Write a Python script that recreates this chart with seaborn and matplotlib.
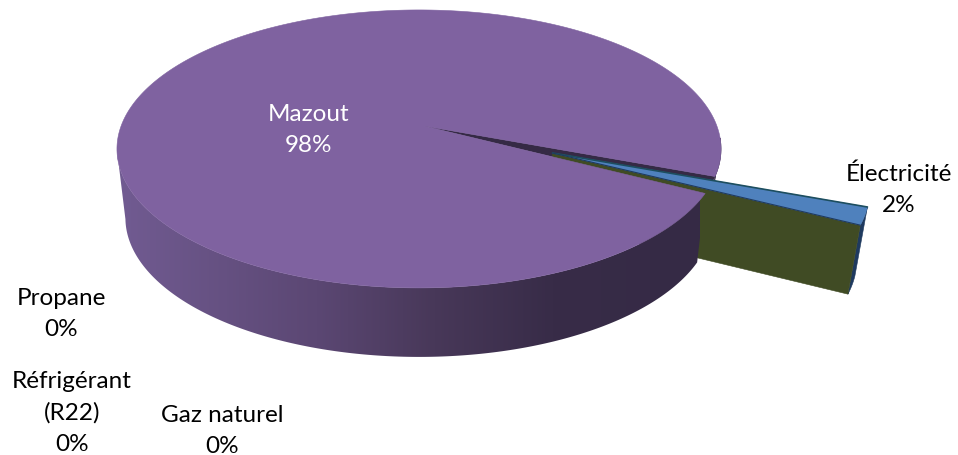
import numpy as np
import matplotlib
matplotlib.use("Agg")
import matplotlib.pyplot as plt
from matplotlib.colors import LinearSegmentedColormap
from matplotlib.patches import Polygon
import seaborn as sns

fuel_names = ["Électricité", "Mazout", "Gaz naturel", "Réfrigérant\n(R22)", "Propane"]
fuel_shares = [1.9, 98.1, 0.0, 0.0, 0.0]

sns.set_theme(style="white")
plt.rcParams['font.family'] = ['Lato', 'DejaVu Sans']

top_purple, blue, olive, navy, teal, gap_dark = sns.color_palette(
    ["#7f62a0", "#4f81bd", "#404b24", "#1f3a5f", "#1d4e5f", "#352a45"])
wall_cmap = LinearSegmentedColormap.from_list(
    "wall", [(0, "#725c93"), (0.35, "#5b4773"), (0.55, "#483859"), (0.75, "#382c48"), (1, "#352a45")])

# pie geometry in pixels, the 3d look is a simple perspective on the unit disc
cx, cy = 419, 127
apex_shift = 5
fx, fy, persp = 297.9, 135.2, 0.165
depth, shrink = 69, 0.028
explode = 0.475
first_angle = 20.6
left_edge = 170


def project(r, theta, z=0.0, off=(0.0, 0.0)):
    u = r * np.cos(np.radians(theta)) + off[0]
    v = r * np.sin(np.radians(theta)) + off[1]
    w = 1 - persp * v
    return np.column_stack([cx + fx * u / w * (1 - shrink * z), cy + fy * v / w + depth * z])


def rim(a0, a1, z=0.0, off=(0.0, 0.0), n=200):
    return project(1.0, np.linspace(a0, a1, n), z, off)


sweep = np.array(fuel_shares) / sum(fuel_shares) * 360
a1 = first_angle
a2 = first_angle + sweep[0]
mid = np.radians((a1 + a2) / 2)
off = (explode * np.cos(mid), explode * np.sin(mid))
apex = project(0.0, np.array([0.0])) + [apex_shift, 0]
apex_out = project(0.0, np.array([0.0]), 0.0, off)

fig = plt.figure(figsize=(9.58, 4.56), dpi=100)
ax = fig.add_axes([0, 0, 1, 1])


def fill(points, color, zorder, **kw):
    ax.add_patch(Polygon(points, closed=True, fc=color, ec=color, lw=0.4, zorder=zorder, **kw))


# back sliver of the wall on the right
fill(np.vstack([rim(5, a1), rim(a1, 5, 1)]), gap_dark, 1)
# gap left by the pulled out slice
fill(np.vstack([apex, rim(a1, a2)]), gap_dark, 2)

# Électricité slice
fill(np.vstack([rim(a1, a2, 0, off), rim(a2, a1, 1, off)]), navy, 3)
fill(np.vstack([apex_out, rim(a2, a2, 0, off, 2)[-1:], rim(a2, a2, 1, off, 2)[-1:],
                project(0.0, np.array([0.0]), 1.0, off)]), olive, 4)

# big wall with horizontal shading
wall = np.vstack([rim(a2, left_edge), rim(left_edge, a2, 1)])
grad = ax.imshow(np.linspace(0, 1, 256)[None, :], cmap=wall_cmap, extent=(110, 700, 400, 100),
                 aspect="auto", zorder=5)
grad.set_clip_path(Polygon(wall, closed=True, transform=ax.transData))

# top of Mazout
fill(np.vstack([apex, rim(a2, a1 + 360, n=500)]), top_purple, 6)

# top of Électricité
fill(np.vstack([apex_out, rim(a1, a2, 0, off)]), blue, 7)
edge = np.vstack([apex_out, rim(a1, a1, 0, off, 2)[-1:]])
ax.plot(edge[:, 0], edge[:, 1], color=teal, lw=1.2, zorder=8)
edge = np.vstack([apex_out, rim(a2, a2, 0, off, 2)[-1:]])
ax.plot(edge[:, 0], edge[:, 1], color=navy, lw=0.8, zorder=8)

label_xy = [(899, 190), (309, 130), (222, 431), (72, 413), (61, 314)]
label_colors = ["#000000", "#ffffff", "#000000", "#000000", "#000000"]
for name, share, (x, y), c in zip(fuel_names, fuel_shares, label_xy, label_colors):
    ax.text(x, y, f"{name}\n{share:.0f}%", ha="center", va="center", ma="center",
            color=c, fontsize=17.5, linespacing=1.6, zorder=10)

ax.set_xlim(0, 958)
ax.set_ylim(456, 0)
ax.axis("off")
fig.savefig("out.png", dpi=100, facecolor="white")
